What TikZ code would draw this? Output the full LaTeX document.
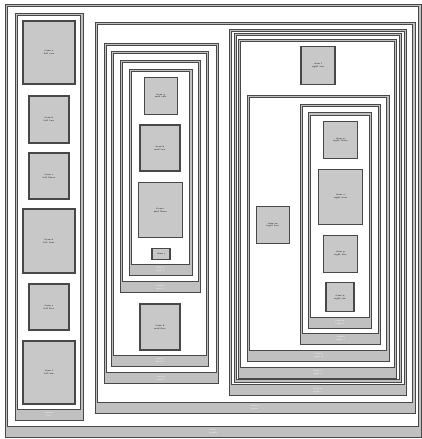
\documentclass[tikz,border=0pt]{standalone}
\usepackage{tikz}
\usetikzlibrary{positioning}
\definecolor{boxgray}{HTML}{C8C8C8}
\definecolor{bargray}{HTML}{C0C0C0}
\definecolor{edgegray}{HTML}{484848}
\tikzset{
  itembox/.style={draw=edgegray, fill=boxgray, line width=1.1pt, align=center,
    inner sep=0pt, font=\fontsize{2.3}{2.9}\selectfont},
  clusterouter/.style={draw=edgegray, fill=bargray, line width=0.85pt},
  clusterinner/.style={draw=edgegray, fill=white, line width=0.85pt},
  clusterlab/.style={text=white, align=center, inner sep=0pt,
    font=\fontsize{2.3}{2.9}\selectfont},
}
% #1 name, #2/#3 top left, #4/#5 bottom right, #6 label
\newcommand\drawcluster[6]{%
  \draw[clusterouter] (#2,#3) rectangle (#4,#5);
  \draw[clusterinner] (#2+2.4,#3+2.4) rectangle (#4-2.4,#5-11);
  \node[clusterlab] (#1) at ({(#2+#4)/2},#5-5.5) {#6};
}
% cluster without a label: no bar at the bottom
\newcommand\drawframe[4]{%
  \draw[clusterouter] (#1,#2) rectangle (#3,#4);
  \draw[clusterinner] (#1+2.4,#2+2.4) rectangle (#3-2.4,#4-2.4);
}
\begin{document}
\begin{tikzpicture}[x=1pt, y=-1pt]
\useasboundingbox (0,0) rectangle (422,439);
% outer clusters
\drawcluster{rootlab}{5}{4}{421}{437}{root\\graph}
\drawcluster{leftlab}{15}{13}{83}{420}{cluster\\left}
\drawcluster{mainlab}{95}{22}{415}{413}{cluster\\main}
% middle column
\drawcluster{midlaba}{104}{43}{218.5}{383.3}{cluster\\mid a}
\drawcluster{midlabb}{111}{51.5}{208.5}{366}{cluster\\mid b}
\drawcluster{midlabc}{120}{60}{200.7}{292.7}{cluster\\mid c}
\drawcluster{midlabd}{129}{69}{192}{275}{cluster\\mid d}
% right column
\drawcluster{rightlaba}{229}{29.3}{406.7}{395.7}{cluster\\right a}
\drawframe{234.3}{33.3}{401.7}{382.3}
\drawcluster{rightlabc}{238.3}{39.3}{396.7}{378.3}{cluster\\right c}
\drawcluster{rightlabd}{247.3}{95}{389.3}{361}{cluster\\right d}
\drawcluster{rightlabe}{300}{104}{380.7}{344.3}{cluster\\right e}
\drawcluster{rightlabf}{308.3}{112.7}{371.7}{328.3}{cluster\\right f}
% left column nodes
\node[itembox, minimum width=52pt, minimum height=63pt] (la) at (49,52.5) {item a\\left one};
\node[itembox, minimum width=40pt, minimum height=47pt] (lb) at (49,119.5) {item b\\left two};
\node[itembox, minimum width=40pt, minimum height=46pt] (lc) at (49,176) {item c\\left three};
\node[itembox, minimum width=52pt, minimum height=64pt] (ld) at (49,241) {item d\\left four};
\node[itembox, minimum width=40pt, minimum height=46pt] (le) at (49,307) {item e\\left five};
\node[itembox, minimum width=52pt, minimum height=63pt] (lf) at (49,372.5) {item f\\left six};
% middle column nodes
\node[itembox, minimum width=33pt, minimum height=37pt] (ma) at (160.7,95.8) {item g\\mid one};
\node[itembox, minimum width=40pt, minimum height=46pt] (mb) at (160,148) {item h\\mid two};
\node[itembox, minimum width=44.5pt, minimum height=54.5pt] (mc) at (160.5,210) {item i\\mid three};
\node[itembox, minimum width=18pt, minimum height=10.7pt] (md) at (161,253.7) {item j};
\node[itembox, minimum width=40pt, minimum height=46pt] (me) at (160,327) {item k\\mid five};
% right column nodes
\node[itembox, minimum width=34pt, minimum height=37.6pt] (ra) at (318,65.5) {item l\\right one};
\node[itembox, minimum width=33.3pt, minimum height=36.6pt] (rb) at (272.7,225) {item m\\right two};
\node[itembox, minimum width=33.6pt, minimum height=36.6pt] (rc) at (340.5,140) {item n\\right three};
\node[itembox, minimum width=44.4pt, minimum height=55pt] (rd) at (340.5,196.8) {item o\\right four};
\node[itembox, minimum width=33.6pt, minimum height=37.3pt] (re) at (340.5,253.7) {item p\\right five};
\node[itembox, minimum width=28pt, minimum height=29pt] (rf) at (340,297.2) {item q\\right six};
\end{tikzpicture}
\end{document}
